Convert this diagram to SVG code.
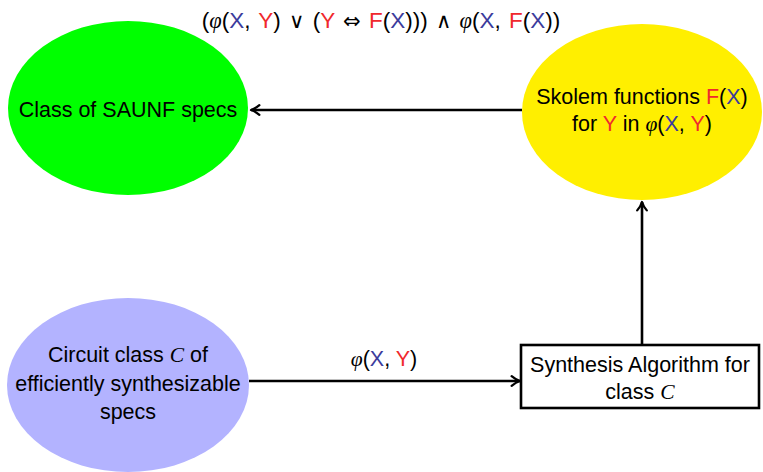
<svg xmlns="http://www.w3.org/2000/svg" width="763" height="472" viewBox="0 0 763 472">
<style>
text{font-family:"Liberation Sans","DejaVu Sans",sans-serif;font-size:21.5px;fill:#000;text-anchor:middle}
.b{fill:#3b3b9c}
.r{fill:#f0282d}
.m{font-family:"Liberation Serif","DejaVu Serif",serif;font-style:italic}
.s{font-family:"DejaVu Sans",sans-serif;font-size:21px}
.t{font-size:22.5px;word-spacing:2px}
.e{stroke:none}
.c{fill:none;stroke:#000;stroke-width:2.6}
</style>
<defs>
<marker id="ar" viewBox="0 0 10 10" refX="8.5" refY="5" markerWidth="4.6" markerHeight="4.6" orient="auto" markerUnits="strokeWidth">
<path d="M1.5,1 Q5,4 8.5,5 Q5,6 1.5,9" fill="none" stroke="#000" stroke-width="1.9" stroke-linecap="round" stroke-linejoin="round"/>
</marker>
</defs>
<g id="topLabel"><text class="t" x="381" y="28">(<tspan class="m">φ</tspan>(<tspan class="b">X</tspan>, <tspan class="r">Y</tspan>) <tspan class="s">∨</tspan> (<tspan class="r">Y</tspan> <tspan class="s">⇔</tspan> <tspan class="r">F</tspan>(<tspan class="b">X</tspan>))) <tspan class="s">∧</tspan> <tspan class="m">φ</tspan>(<tspan class="b">X</tspan>, <tspan class="r">F</tspan>(<tspan class="b">X</tspan>))</text></g>
<g id="saunf"><ellipse class="e" cx="128" cy="108" rx="120" ry="87" fill="#00ff00"/><text x="128" y="117">Class of SAUNF specs</text></g>
<g id="skolem"><ellipse class="e" cx="642" cy="112" rx="120" ry="88" fill="#ffef00"/><text x="642" y="104">Skolem functions <tspan class="r">F</tspan>(<tspan class="b">X</tspan>)</text><text x="642" y="131">for <tspan class="r">Y</tspan> in <tspan class="m">φ</tspan>(<tspan class="b">X</tspan>, <tspan class="r">Y</tspan>)</text></g>
<g id="circuit"><ellipse class="e" cx="128" cy="385" rx="121" ry="87" fill="#b3b3ff"/><text x="128" y="362">Circuit class <tspan class="m">C</tspan> of</text><text x="128" y="391">efficiently synthesizable</text><text x="128" y="419">specs</text></g>
<g id="synth"><rect x="521" y="345" width="238" height="63" fill="#fff" stroke="#000" stroke-width="2.6"/><text x="640" y="372">Synthesis Algorithm for</text><text x="640" y="399">class <tspan class="m">C</tspan></text></g>
<g id="connectors">
<line class="c" x1="522" y1="110" x2="251" y2="110" marker-end="url(#ar)"/>
<line class="c" x1="642" y1="345" x2="642" y2="202" marker-end="url(#ar)"/>
<line class="c" x1="249" y1="381" x2="520" y2="381" marker-end="url(#ar)"/>
<text x="384" y="366"><tspan class="m">φ</tspan>(<tspan class="b">X</tspan>, <tspan class="r">Y</tspan>)</text>
</g>
</svg>
